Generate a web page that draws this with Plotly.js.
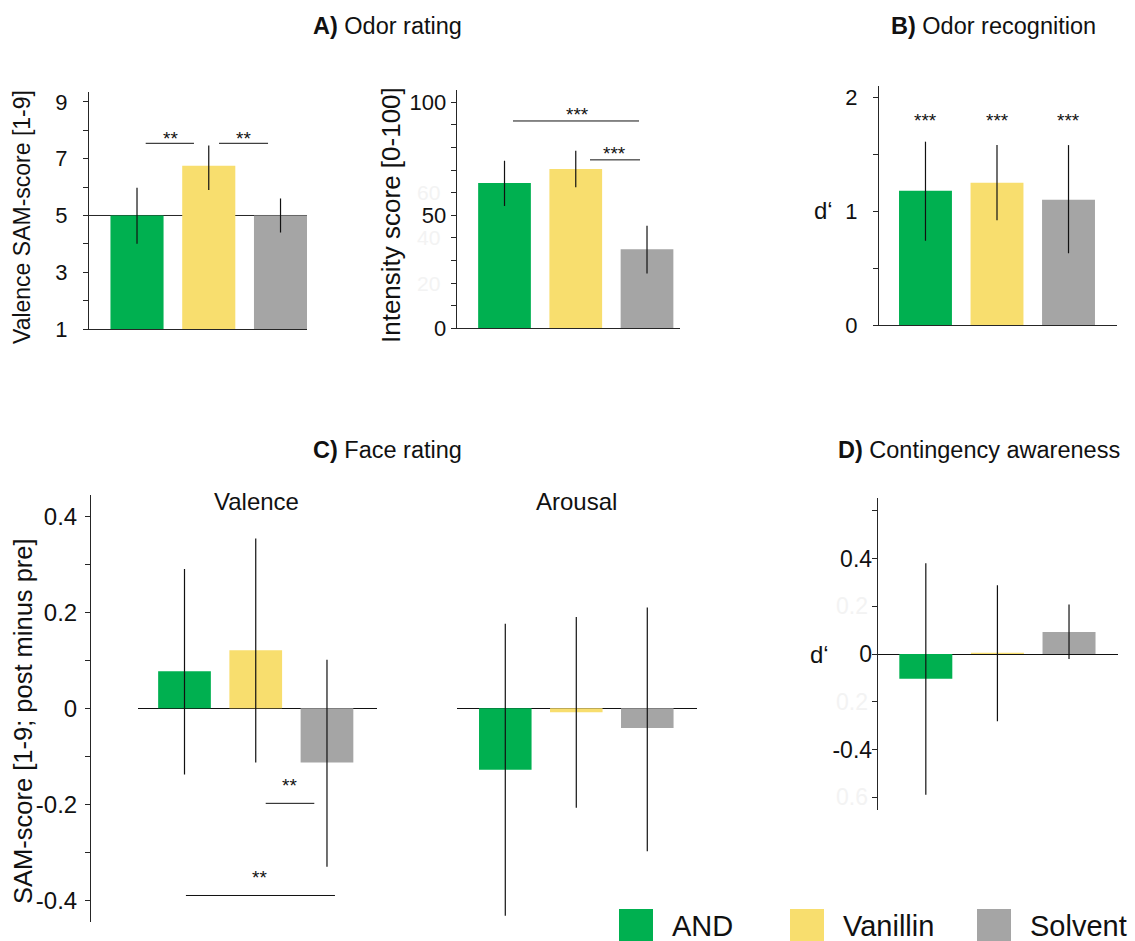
<!DOCTYPE html>
<html><head><meta charset="utf-8">
<script src="https://cdn.plot.ly/plotly-3.0.1.min.js"></script>
<style>html,body{margin:0;padding:0;background:#fff}</style>
</head><body><div id="chart" style="width:1135px;height:941px"></div>
<script>
// ---------- data ----------
const categories = ['AND', 'Vanillin', 'Solvent'];

const odorValenceMean  = [5.0, 6.75, 5.0];
const odorValencePlus  = [0.98, 0.72, 0.60];
const odorValenceMinus = [1.00, 0.85, 0.60];

const intensityMean  = [64.3, 70.5, 35.0];
const intensityPlus  = [9.8, 8.0, 10.4];
const intensityMinus = [10.2, 8.1, 10.8];

const recognitionMean  = [1.18, 1.25, 1.10];
const recognitionPlus  = [0.43, 0.33, 0.48];
const recognitionMinus = [0.44, 0.33, 0.47];

const faceValenceMean  = [0.077, 0.121, -0.113];
const faceValencePlus  = [0.213, 0.233, 0.214];
const faceValenceMinus = [0.215, 0.234, 0.217];

const faceArousalMean  = [-0.128, -0.008, -0.041];
const faceArousalPlus  = [0.304, 0.198, 0.251];
const faceArousalMinus = [0.304, 0.199, 0.257];

const contingencyMean  = [-0.104, 0.005, 0.092];
const contingencyPlus  = [0.484, 0.283, 0.115];
const contingencyMinus = [0.486, 0.287, 0.113];

// tick values / labels ('g:' = barely visible label in the original)
const valenceTickVals = [1, 2, 3, 4, 5, 6, 7, 8, 9];
const valenceTickText = ['1', '', '3', '', '5', '', '7', '', '9'];
const intensityTickVals = [0, 10, 20, 30, 40, 50, 60, 70, 80, 90, 100];
const intensityTickText = ['0', '', 'g:20', '', 'g:40', '50', 'g:60', '', '', '', '100'];
const recogTickVals = [0, 0.5, 1, 1.5, 2];
const recogTickText = ['0', '', '1', '', '2'];
const faceTickVals = [-0.4, -0.3, -0.2, -0.1, 0, 0.1, 0.2, 0.3, 0.4];
const faceTickText = ['-0.4', '', '-0.2', '', '0', '', '0.2', '', '0.4'];
const contTickVals = [-0.6, -0.4, -0.2, 0, 0.2, 0.4, 0.6];
const contTickText = ['g:0.6', '-0.4', 'g:0.2', '0', 'g:0.2', '0.4', ''];

// ---------- style ----------
const FONT = '"Liberation Sans", Arial, sans-serif';
const AX = '#262626';
const GHOST = '#f3f3f3';
const barColors = ['#00B050', '#F8DE6E', '#A5A5A5'];
const W = 1135, H = 941;
const px = v => v / W;
const py = v => 1 - v / H;

const ghostNotes = [];
function visibleTicks(arr) { return arr.map(t => t.startsWith('g:') ? '' : t); }
function addGhosts(vals, arr, xa, ya, size, xshift) {
  arr.forEach((t, i) => {
    if (t.startsWith('g:')) ghostNotes.push({xref: xa + ' domain', yref: ya, x: 0, y: vals[i], text: t.slice(2),
      showarrow: false, xanchor: 'right', yanchor: 'middle', xshift: xshift, font: {family: FONT, size: size, color: GHOST}});
  });
}
function xAx(l, r, range, showline, anchor) {
  return {domain: [px(l), px(r)], range: range, type: 'category', anchor: anchor, showline: showline, linecolor: AX, linewidth: 1,
          ticks: '', showticklabels: false, showgrid: false, zeroline: false, fixedrange: true};
}
function yAx(b, t, range, vals, text, size, standoff, anchor, extra) {
  return Object.assign({domain: [py(b), py(t)], range: range, anchor: anchor, showline: true, linecolor: AX, linewidth: 1,
          ticks: 'outside', ticklen: 5, tickwidth: 1, tickcolor: AX, tickvals: vals, ticktext: visibleTicks(text),
          ticklabelstandoff: standoff,
          tickfont: {family: FONT, size: size, color: '#111'}, showgrid: false, zeroline: false, fixedrange: true}, extra || {});
}
function bars(mean, plus, minus, xa, ya) {
  return {type: 'bar', x: categories, y: mean, xaxis: xa, yaxis: ya, width: 0.74,
          marker: {color: barColors, line: {width: 0}},
          error_y: {type: 'data', symmetric: false, array: plus, arrayminus: minus, color: '#111', thickness: 1.2, width: 0},
          hoverinfo: 'skip', showlegend: false};
}

const traces = [
  bars(odorValenceMean, odorValencePlus, odorValenceMinus, 'x', 'y'),
  bars(intensityMean, intensityPlus, intensityMinus, 'x2', 'y2'),
  bars(recognitionMean, recognitionPlus, recognitionMinus, 'x3', 'y3'),
  bars(faceValenceMean, faceValencePlus, faceValenceMinus, 'x4', 'y4'),
  bars(faceArousalMean, faceArousalPlus, faceArousalMinus, 'x5', 'y5'),
  bars(contingencyMean, contingencyPlus, contingencyMinus, 'x6', 'y6')
];

const faceRange = [-0.4446, 0.4444];
const layout = {
  width: W, height: H, margin: {l: 0, r: 0, t: 0, b: 0},
  paper_bgcolor: '#fff', plot_bgcolor: 'rgba(0,0,0,0)', showlegend: false,
  font: {family: FONT, color: '#111'},
  xaxis:  xAx(89, 307, [-0.669, 2.369], true, 'y'),
  yaxis:  yAx(329, 92, [1, 9.352], valenceTickVals, valenceTickText, 22, 11, 'x'),
  xaxis2: xAx(456.7, 680, [-0.671, 2.463], true, 'y2'),
  yaxis2: yAx(328.3, 90, [0, 105.4], intensityTickVals, intensityTickText, 22, 0, 'x2'),
  xaxis3: xAx(879, 1117, [-0.650, 2.678], true, 'y3'),
  yaxis3: yAx(325, 86, [0, 2.099], recogTickVals, recogTickText, 22, 11, 'x3'),
  xaxis4: xAx(137.7, 376.7, [-0.657, 2.698], false, 'y4'),
  yaxis4: yAx(921.7, 495, faceRange, faceTickVals, faceTickText, 24, 3, 'free',
              {position: px(90), zeroline: true, zerolinecolor: '#111', zerolinewidth: 1, layer: 'above traces'}),
  xaxis5: xAx(457.3, 696.7, [-0.676, 2.696], false, 'y5'),
  yaxis5: {domain: [py(921.7), py(495)], range: faceRange, anchor: 'x5', showline: false, ticks: '', showticklabels: false,
           showgrid: false, zeroline: true, zerolinecolor: '#111', zerolinewidth: 1, layer: 'above traces', fixedrange: true},
  xaxis6: xAx(877.7, 1118, [-0.672, 2.684], false, 'y6'),
  yaxis6: yAx(810, 498, [-0.6534, 0.6534], contTickVals, contTickText, 23, -5, 'x6',
              {zeroline: true, zerolinecolor: '#111', zerolinewidth: 1, layer: 'above traces'}),
  shapes: [],
  annotations: []
};
addGhosts(intensityTickVals, intensityTickText, 'x2', 'y2', 21, -15);
addGhosts(contTickVals, contTickText, 'x6', 'y6', 23, -8);

// reference line at neutral valence 5
layout.shapes.push({type: 'line', xref: 'x domain', yref: 'y', x0: 0, x1: 1, y0: 5, y1: 5,
                    line: {color: AX, width: 1}, layer: 'below'});

// significance brackets
const sigLine = (xa, ya, x0, x1, y) => layout.shapes.push({type: 'line', xref: xa, yref: ya, x0: x0, x1: x1, y0: y, y1: y, line: {color: '#111', width: 1}});
const stars = (xa, ya, x, y, txt) => layout.annotations.push({xref: xa, yref: ya, x: x, y: y, text: txt, showarrow: false,
                    yanchor: 'middle', yshift: -6, font: {family: FONT, size: 19, color: '#111'}});
sigLine('x', 'y', 0.121, 0.794, 7.544); stars('x', 'y', 0.46, 7.91, '**');
sigLine('x', 'y', 1.143, 1.826, 7.544); stars('x', 'y', 1.48, 7.91, '**');
sigLine('x2', 'y2', 0.119, 1.888, 91.7); stars('x2', 'y2', 1.018, 97, '***');
sigLine('x2', 'y2', 1.2, 1.902, 74.5); stars('x2', 'y2', 1.537, 79.8, '***');
[0, 1, 2].forEach(i => stars('x3', 'y3', i, 1.845, '***'));
sigLine('x4', 'y4', 1.14, 1.822, -0.198); stars('x4', 'y4', 1.476, -0.149, '**');
sigLine('x4', 'y4', 0.02, 2.112, -0.390); stars('x4', 'y4', 1.046, -0.339, '**');

// text annotations (paper)
const note = (x, y, text, size, extra) => layout.annotations.push(Object.assign({xref: 'paper', yref: 'paper', x: px(x), y: py(y),
                    text: text, showarrow: false, xanchor: 'center', yanchor: 'middle', font: {family: FONT, size: size, color: '#111'}}, extra || {}));
note(387, 26, '<b>A)</b> Odor rating', 23.5);
note(994, 26, '<b>B)</b> Odor recognition', 23.5);
note(387, 450, '<b>C)</b> Face rating', 23.5);
note(979, 450, '<b>D)</b> Contingency awareness', 23.5);
note(256, 501, 'Valence', 24);
note(576, 501, 'Arousal', 24);
note(22, 217, 'Valence SAM-score [1-9]', 23, {textangle: -90});
note(391, 215, 'Intensity score [0-100]', 26, {textangle: -90});
note(23, 721, 'SAM-score [1-9; post minus pre]', 25.5, {textangle: -90});
note(823, 211, 'd\u2018', 24);
note(819, 654, 'd\u2018', 24);

// legend
const legendX = [619, 790, 977];
categories.forEach((c, i) => {
  layout.shapes.push({type: 'rect', xref: 'paper', yref: 'paper', x0: px(legendX[i]), x1: px(legendX[i] + 34),
                      y0: py(943), y1: py(909), fillcolor: barColors[i], line: {width: 0}});
  note(legendX[i] + 51, 926, c, 29, {xanchor: 'left'});
});
layout.annotations = ghostNotes.concat(layout.annotations);

Plotly.newPlot('chart', traces, layout, {displayModeBar: false, staticPlot: true});
</script></body></html>
